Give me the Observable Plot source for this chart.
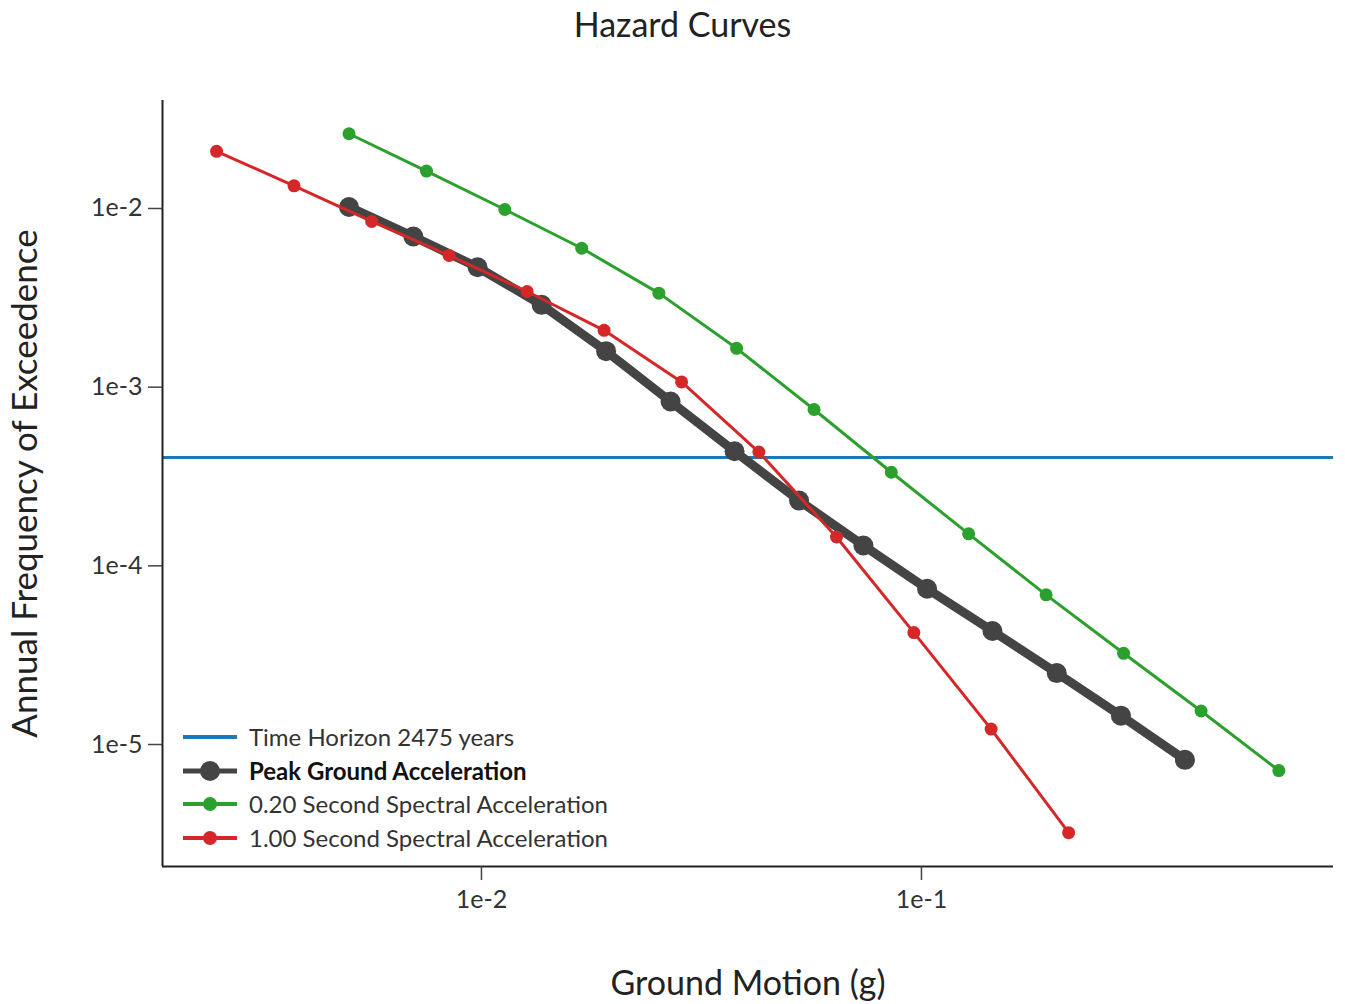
<!DOCTYPE html>
<html>
<head>
<meta charset="utf-8">
<script src="https://cdn.jsdelivr.net/npm/d3@7"></script>
<script src="https://cdn.jsdelivr.net/npm/@observablehq/plot@0.6"></script>
<style>
  body { margin: 0; background: #fff; font-family: Lato, "Open Sans", sans-serif; }
  #wrap { position: relative; width: 1345px; height: 1004px; overflow: hidden; }
  #title { position: absolute; left: 20px; top: 0; width: 1325px; height: 48px; line-height: 48px;
           text-align: center; font-size: 34px; color: #222; }
  #chart { position: absolute; left: 0; top: 50px; }
  .lg { position: absolute; left: 182px; height: 34px; line-height: 34px; font-size: 24px; color: #333;
        white-space: nowrap; display: flex; align-items: center; }
  .lg svg { margin-right: 11px; }
</style>
</head>
<body>
<div id="wrap">
  <div id="title"></div>
  <div id="chart"></div>
  <div id="legend"></div>
</div>
<script>
// ---- data ----
const title = "Hazard Curves";
const xLabel = "Ground Motion (g)";
const yLabel = "Annual Frequency of Exceedence";

const seriesNames = ["Peak Ground Acceleration", "0.20 Second Spectral Acceleration", "1.00 Second Spectral Acceleration"];
const horizonName = "Time Horizon 2475 years";
const timeHorizon = 0.000404; // 1/2475

const pgaX = [0.005, 0.007, 0.0098, 0.0137, 0.0192, 0.0269, 0.0376, 0.0527, 0.0738, 0.103, 0.145, 0.203, 0.284, 0.397];
const pgaY = [0.0102, 0.00697, 0.00469, 0.00289, 0.00159, 0.000831, 0.000438, 0.000232, 0.000130, 7.44e-5, 4.32e-5, 2.51e-5, 1.45e-5, 8.21e-6];

const sa02X = [0.005, 0.0075, 0.0113, 0.0169, 0.0253, 0.038, 0.057, 0.0854, 0.128, 0.192, 0.288, 0.432, 0.649];
const sa02Y = [0.0262, 0.0162, 0.00987, 0.00599, 0.00336, 0.00165, 0.00075, 0.000334, 0.000151, 6.88e-5, 3.24e-5, 1.54e-5, 7.15e-6];

const sa10X = [0.0025, 0.00375, 0.00563, 0.00844, 0.0127, 0.019, 0.0285, 0.0427, 0.0641, 0.0961, 0.144, 0.216];
const sa10Y = [0.0209, 0.0134, 0.00846, 0.00546, 0.00343, 0.00208, 0.00107, 0.000433, 0.000145, 4.23e-5, 1.22e-5, 3.21e-6];

const xTicks = [0.01, 0.1];
const yTicks = [1e-2, 1e-3, 1e-4, 1e-5];
const xDomain = [0.001884, 0.8639];
const yDomain = [2.076e-6, 0.04022];

// ---- styles ----
const colors = {horizon: "#1f77b4", pga: "#444444", sa02: "#2ca02c", sa10: "#d62728"};

const toRows = (xs, ys) => xs.map((x, i) => ({x, y: ys[i]}));
const pga = toRows(pgaX, pgaY);
const sa02 = toRows(sa02X, sa02Y);
const sa10 = toRows(sa10X, sa10Y);
const fmt = d => "1e" + Math.round(Math.log10(d));

document.getElementById("title").textContent = title;

const chart = Plot.plot({
  width: 1345,
  height: 954,
  marginTop: 50,
  marginBottom: 138,
  marginLeft: 162,
  marginRight: 12,
  style: {fontFamily: "Lato, 'Open Sans', sans-serif", fontSize: "25px", color: "#333", background: "white"},
  x: {type: "log", domain: xDomain},
  y: {type: "log", domain: yDomain},
  marks: [
    Plot.ruleY([timeHorizon], {stroke: colors.horizon, strokeWidth: 3}),
    Plot.line(pga, {x: "x", y: "y", stroke: colors.pga, strokeWidth: 9}),
    Plot.dot(pga, {x: "x", y: "y", r: 10, fill: colors.pga}),
    Plot.line(sa02, {x: "x", y: "y", stroke: colors.sa02, strokeWidth: 3}),
    Plot.dot(sa02, {x: "x", y: "y", r: 6.5, fill: colors.sa02}),
    Plot.line(sa10, {x: "x", y: "y", stroke: colors.sa10, strokeWidth: 3}),
    Plot.dot(sa10, {x: "x", y: "y", r: 6.5, fill: colors.sa10}),
    Plot.ruleX([xDomain[0]], {stroke: "#222", strokeWidth: 2}),
    Plot.ruleY([yDomain[0]], {stroke: "#222", strokeWidth: 2}),
    Plot.axisX({ticks: xTicks, tickFormat: fmt, tickSize: 14, tickPadding: 10, stroke: "#444", strokeWidth: 1.5, label: null}),
    Plot.axisY({ticks: yTicks, tickFormat: fmt, tickSize: 14, tickPadding: 6, stroke: "#444", strokeWidth: 1.5, label: null}),
    Plot.text([xLabel], {frameAnchor: "bottom", dy: 128, fontSize: 34, fill: "#222"}),
    Plot.text([yLabel], {frameAnchor: "left", textAnchor: "middle", rotate: -90, dx: -137, fontSize: 35, fill: "#222"})
  ]
});
document.getElementById("chart").appendChild(chart);

// ---- legend (HTML overlay) ----
const legendItems = [
  {name: horizonName, color: colors.horizon, r: 0, w: 4, bold: false, cy: 737},
  {name: seriesNames[0], color: colors.pga, r: 10, w: 5, bold: true, cy: 771},
  {name: seriesNames[1], color: colors.sa02, r: 7, w: 4, bold: false, cy: 804},
  {name: seriesNames[2], color: colors.sa10, r: 7, w: 4, bold: false, cy: 838}
];
const legend = document.getElementById("legend");
for (const it of legendItems) {
  const row = document.createElement("div");
  row.className = "lg";
  row.style.top = (it.cy - 17) + "px";
  if (it.bold) { row.style.fontWeight = "bold"; row.style.color = "#111"; }
  const dot = it.r ? `<circle cx="28" cy="17" r="${it.r}" fill="${it.color}"/>` : "";
  row.innerHTML = `<svg width="56" height="34"><line x1="1" x2="55" y1="17" y2="17" stroke="${it.color}" stroke-width="${it.w}"/>${dot}</svg><span>${it.name}</span>`;
  legend.appendChild(row);
}
</script>
</body>
</html>
